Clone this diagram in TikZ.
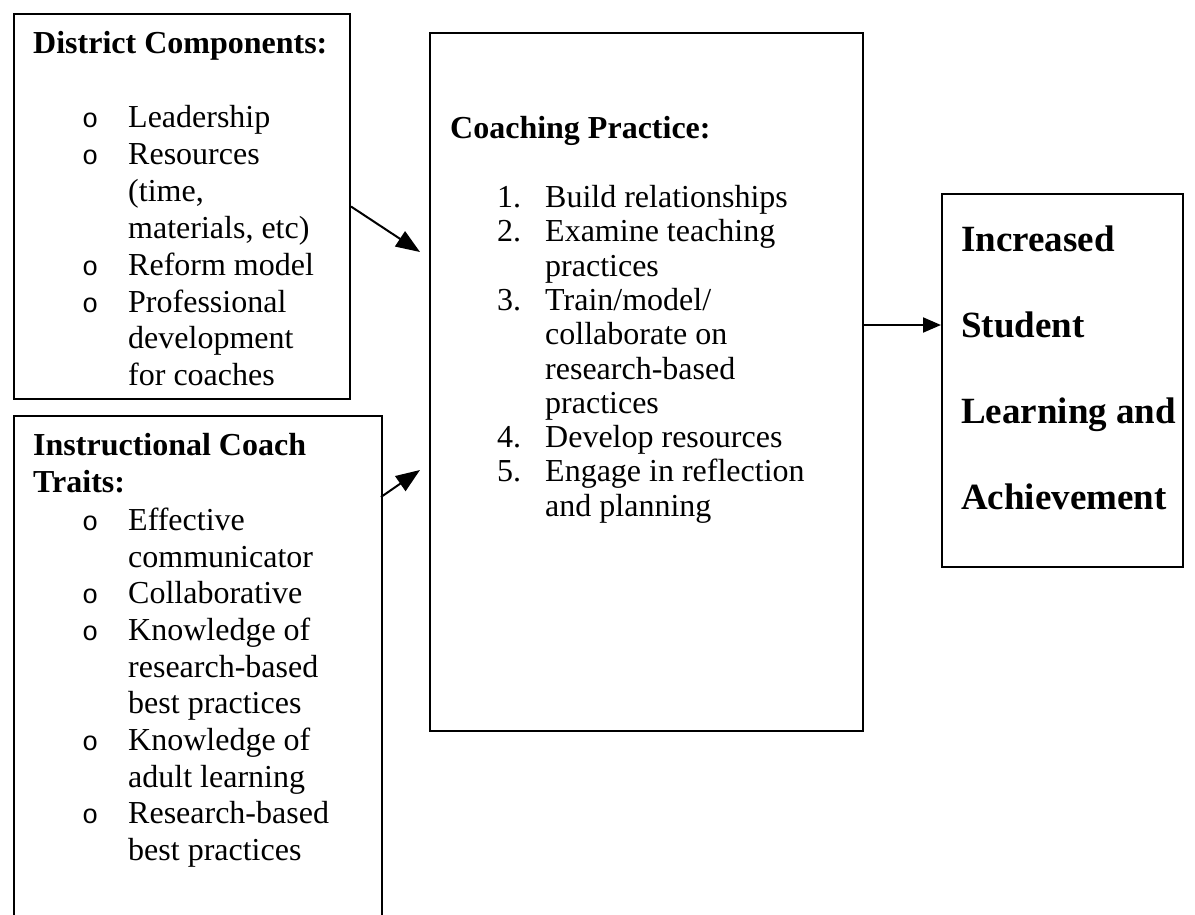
\documentclass[tikz,border=0pt]{standalone}
\usepackage{fontspec}
\setmainfont{Liberation Serif}
\newfontfamily\bulletfont{Liberation Mono}
\usetikzlibrary{arrows.meta}
\begin{document}
\begin{tikzpicture}[x=1pt,y=-1pt,
  box/.style={draw, line width=2pt, rectangle, anchor=north west, inner sep=0pt},
  txt/.style={anchor=base west, inner sep=0pt, font=\fontsize{32}{36}\selectfont},
  head/.style={anchor=base west, inner sep=0pt, font=\fontsize{32}{36}\selectfont\bfseries},
  big/.style={anchor=base west, inner sep=0pt, font=\fontsize{37}{44}\selectfont\bfseries},
  dot/.style={anchor=base west, inner sep=0pt, font=\fontsize{27}{32}\bulletfont},
  arr/.style={line width=2pt, -{Triangle[length=24pt,width=18pt]}},
  arrs/.style={line width=2pt, -{Triangle[length=18pt,width=15pt]}}
]
\useasboundingbox (0,0) rectangle (1195,914);
\fill[white] (0,0) rectangle (1195,914);
\clip (0,0) rectangle (1195,914);

% boxes
\node[box, minimum width=336pt, minimum height=385pt] (dc) at (13,13) {};
\node[box, minimum width=368pt, minimum height=530pt] (ic) at (13,415) {};
\node[box, minimum width=433pt, minimum height=698pt] (cp) at (429,32) {};
\node[box, minimum width=241pt, minimum height=373pt] (out) at (941,193) {};

% district components
\node[head] (dch) at (33,53) {District Components:};
\node[dot] (dcb1) at (82,127) {o};
\node[txt] (dc1) at (128,127) {Leadership};
\node[dot] (dcb2) at (82,164) {o};
\node[txt] (dc2) at (128,164) {Resources};
\node[txt] (dc3) at (128,201) {(time,};
\node[txt] (dc4) at (128,238) {materials, etc)};
\node[dot] (dcb3) at (82,275) {o};
\node[txt] (dc5) at (128,275) {Reform model};
\node[dot] (dcb4) at (82,312) {o};
\node[txt] (dc6) at (128,312) {Professional};
\node[txt] (dc7) at (128,348) {development};
\node[txt] (dc8) at (128,385) {for coaches};

% instructional coach traits
\node[head] (ich1) at (33,455) {Instructional Coach};
\node[head] (ich2) at (33,492) {Traits:};
\node[dot] (icb1) at (82,530) {o};
\node[txt] (ic1) at (128,530) {Effective};
\node[txt] (ic2) at (128,567) {communicator};
\node[dot] (icb2) at (82,603) {o};
\node[txt] (ic3) at (128,603) {Collaborative};
\node[dot] (icb3) at (82,640) {o};
\node[txt] (ic4) at (128,640) {Knowledge of};
\node[txt] (ic5) at (128,677) {research-based};
\node[txt] (ic6) at (128,713) {best practices};
\node[dot] (icb4) at (82,750) {o};
\node[txt] (ic7) at (128,750) {Knowledge of};
\node[txt] (ic8) at (128,787) {adult learning};
\node[dot] (icb5) at (82,823) {o};
\node[txt] (ic9) at (128,823) {Research-based};
\node[txt] (ic10) at (128,860) {best practices};

% coaching practice
\node[head] (cph) at (450,138) {Coaching Practice:};
\node[txt] (cpn1) at (497,207) {1.};
\node[txt] (cp1) at (545,207) {Build relationships};
\node[txt] (cpn2) at (497,241) {2.};
\node[txt] (cp2) at (545,241) {Examine teaching};
\node[txt] (cp3) at (545,276) {practices};
\node[txt] (cpn3) at (497,310) {3.};
\node[txt] (cp4) at (545,310) {Train/model/};
\node[txt] (cp5) at (545,344) {collaborate on};
\node[txt] (cp6) at (545,379) {research-based};
\node[txt] (cp7) at (545,413) {practices};
\node[txt] (cpn4) at (497,447) {4.};
\node[txt] (cp8) at (545,447) {Develop resources};
\node[txt] (cpn5) at (497,481) {5.};
\node[txt] (cp9) at (545,481) {Engage in reflection};
\node[txt] (cp10) at (545,516) {and planning};

% outcome
\node[big] (o1) at (961,251) {Increased};
\node[big] (o2) at (961,337) {Student};
\node[big] (o3) at (961,423) {Learning and};
\node[big] (o4) at (961,509) {Achievement};

% connectors
\coordinate (t1) at (420,252);
\coordinate (s2) at (381,497);
\coordinate (t2) at (420,470);
\coordinate (lvl) at (0,325);
\draw[arr] (dc.east) -- (t1);
\draw[arr] (s2) -- (t2);
\draw[arrs] (cp.east |- lvl) -- (out.west |- lvl);
\end{tikzpicture}
\end{document}
